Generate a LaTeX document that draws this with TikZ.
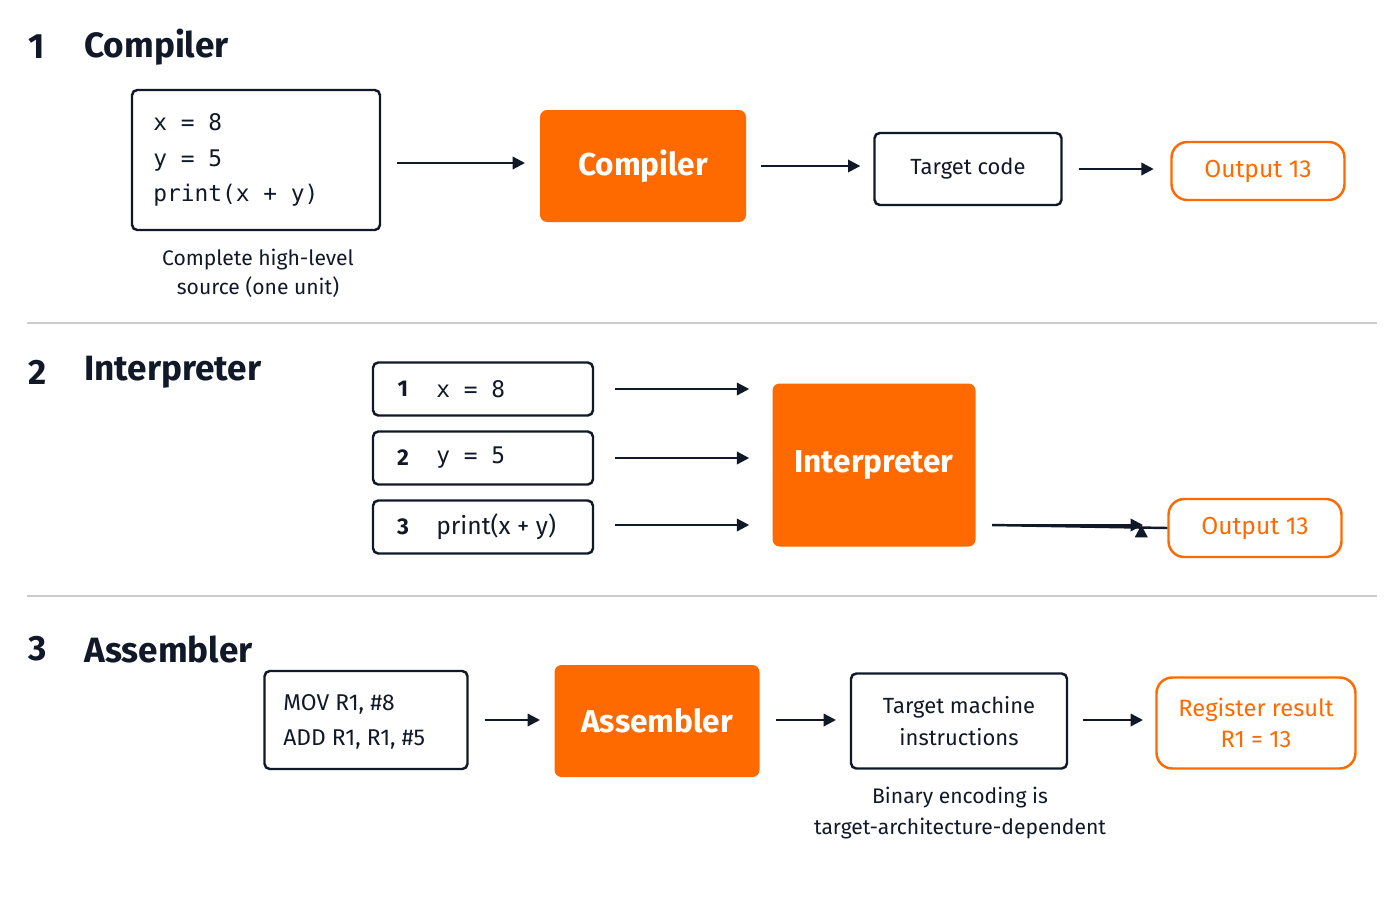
\documentclass[tikz,border=0pt]{standalone}
\usepackage{fontspec}
\setmainfont{Fira Sans}
\setmonofont{DejaVu Sans Mono}
\usetikzlibrary{arrows.meta}
\definecolor{ink}{HTML}{111827}
\definecolor{org}{HTML}{FF6A00}
\definecolor{sep}{HTML}{CCCCCC}
\tikzset{
 px/.style={x=0.02cm,y=-0.02cm},
 box/.style={draw=ink,line width=1.4pt,rounded corners=3pt,fill=white},
 obox/.style={fill=org,rounded corners=4pt},
 rbox/.style={draw=org,line width=1.4pt,rounded corners=9pt},
 arr/.style={-{Triangle[length=7pt,width=7pt]},draw=ink,line width=1.4pt},
 head/.style={font=\fontsize{20}{24}\selectfont\bfseries,text=ink,anchor=west,inner sep=0},
 lbl/.style={text=ink,inner sep=0,align=center},
}
\begin{document}
\begin{tikzpicture}[px]
\useasboundingbox (0,0) rectangle (1400,900);
% section 1
\node[head] (n1) at (28,47) {1};
\node[head] (h1) at (84,47) {Compiler};
\node[box,minimum width=248*0.02cm,minimum height=140*0.02cm] (src) at (256,160) {};
\node[lbl,anchor=west,font=\ttfamily\fontsize{13}{20}\selectfont,align=left] (srct) at (153,160) {x = 8\\y = 5\\print(x + y)};
\node[lbl,font=\fontsize{12}{16.5}\selectfont\mdseries] (cap1) at (258,273) {Complete high-level\\source (one unit)};
\node[obox,minimum width=206*0.02cm,minimum height=112*0.02cm,text=white,font=\fontsize{18}{20}\selectfont\bfseries] (comp) at (643,166) {Compiler};
\node[box,minimum width=187*0.02cm,minimum height=72*0.02cm,font=\fontsize{12.5}{15}\selectfont,text=ink] (tgt) at (968,169) {Target code};
\node[rbox,minimum width=173*0.02cm,minimum height=58*0.02cm,font=\fontsize{14}{16}\selectfont,text=org] (out1) at (1258,171) {Output 13};
\draw[arr] (src.east)++(16,3) coordinate (a1) -- (525,163);
\draw[arr] (comp.east)++(15,0) -- ++(99,0);
\draw[arr] (tgt.east)++(16,0) -- ++(75,0);
\draw[sep,line width=1.2pt] (27,323) coordinate (s1a) -- (1377,323) coordinate (s1b);
% section 2
\node[head] (n2) at (28,372) {2};
\node[head] (h2) at (84,372) {Interpreter};
\foreach \i/\y/\t in {1/389/x = 8,2/458/y = 5}{
 \node[box,minimum width=220*0.02cm,minimum height=53*0.02cm] (l\i) at (483,\y) {};
 \node[lbl,font=\fontsize{13}{15}\selectfont\bfseries] (ln\i) at (403,\y) {\i};
 \node[lbl,anchor=west,font=\ttfamily\fontsize{13}{15}\selectfont] (lt\i) at (436,\y) {\t};
 \draw[arr] (l\i.east)++(21,0) -- ++(134,0);
}
\node[box,minimum width=220*0.02cm,minimum height=53*0.02cm] (l3) at (483,527) {};
\node[lbl,font=\fontsize{13}{15}\selectfont\bfseries] (ln3) at (403,527) {3};
\node[lbl,anchor=west,font=\fontsize{14}{15}\selectfont] (lt3) at (436,527) {print(x + y)};
\draw[arr] (l3.east)++(21,-2) -- ++(134,0);
\node[obox,minimum width=203*0.02cm,minimum height=163*0.02cm,text=white,font=\fontsize{18}{20}\selectfont\bfseries] (interp) at (874,465) {Interpreter};
\node[rbox,minimum width=173*0.02cm,minimum height=58*0.02cm,font=\fontsize{14}{16}\selectfont,text=org] (out2) at (1255,528) {Output 13};
\draw[arr] (992,525) -- (out2.west) ++(-26,-3);
\draw[arr] (992,525) -- (1143,525);
\draw[sep,line width=1.2pt] (27,596) coordinate (s2a) -- (1377,596) coordinate (s2b);
% section 3
\node[head] (n3) at (28,649) {3};
\node[head] (h3) at (84,649) {Assembler};
\node[box,minimum width=203*0.02cm,minimum height=98*0.02cm] (asm) at (366,720) {};
\node[lbl,anchor=west,align=left,font=\fontsize{13}{20}\selectfont] (asmt) at (283,722) {MOV R1, \#8\\ADD R1, R1, \#5};
\node[obox,minimum width=205*0.02cm,minimum height=112*0.02cm,text=white,font=\fontsize{18}{20}\selectfont\bfseries] (as) at (657,721) {Assembler};
\node[box,minimum width=216*0.02cm,minimum height=95*0.02cm,font=\fontsize{12.5}{18.5}\selectfont,text=ink,align=center] (tm) at (959,721) {Target machine\\instructions};
\node[lbl,font=\fontsize{12}{17.5}\selectfont] (cap3) at (960,813) {Binary encoding is\\target-architecture-dependent};
\node[rbox,minimum width=199*0.02cm,minimum height=91*0.02cm,font=\fontsize{13.5}{18}\selectfont,text=org,align=center] (reg) at (1256,723) {Register result\\R1 = 13};
\draw[arr] (asm.east)++(16,0) -- (540,720);
\draw[arr] (as.east)++(16,-1) -- (836,720);
\draw[arr] (tm.east)++(15,-1) -- (1143,720);
\end{tikzpicture}
\end{document}
